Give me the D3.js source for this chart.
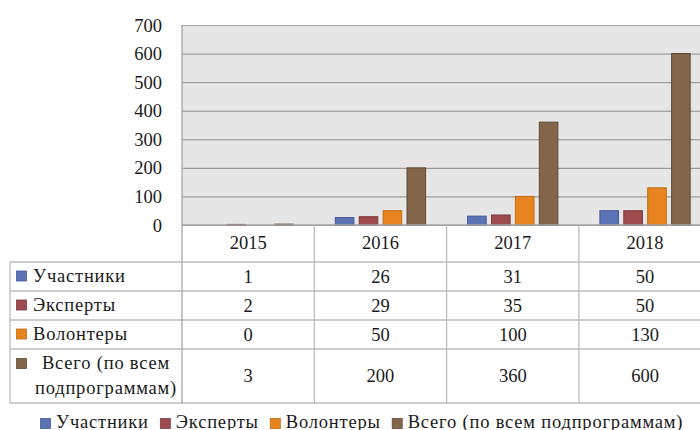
<!DOCTYPE html>
<html>
<head>
  <meta charset="utf-8">
  <script src="https://cdnjs.cloudflare.com/ajax/libs/d3/7.8.5/d3.min.js"></script>
<style>
body {
  margin: 0;
  background-color: #fff;
}
.grid .domain {
  display: none;
}
</style>
</head>

<body>
  <svg id='chart' width='700' height='430'></svg>

<script>

var years = ['2015', '2016', '2017', '2018'];
var series = ['Участники', 'Эксперты', 'Волонтеры', 'Всего (по всем подпрограммам)'];
var seriesLines = [['Участники'], ['Эксперты'], ['Волонтеры'], ['Всего (по всем', 'подпрограммам)']];
var participants = [1, 26, 31, 50];
var experts = [2, 29, 35, 50];
var volunteers = [0, 50, 100, 130];
var total = [3, 200, 360, 600];
var yTicks = [0, 100, 200, 300, 400, 500, 600, 700];

var fills = ['#5b72b5', '#9d4b4f', '#e8841f', '#83664a'];
var strokes = ['#455a96', '#7c383b', '#c26b12', '#5f4a33'];

var values = [participants, experts, volunteers, total];

var FONT = '"Liberation Serif", "Times New Roman", serif';
var FS = 18.5;
var LS = 0.8; // wider look for the word labels

var svg = d3.select('#chart')
  .attr('font-family', FONT)
  .attr('font-size', FS);

var plotLeft = 182, plotTop = 25, zero = 225;
var colW = 132.3;
var rowY = [225, 262, 291, 320, 349, 403];
var tableLeft = 10;
var lineCol = '#bdbdbd';

var x0 = d3.scaleBand().domain(years).range([plotLeft, plotLeft + colW * years.length]);
var x1 = d3.scaleBand().domain(series).range([20.5, colW - 20.5]).paddingInner(0.18);
var y = d3.scaleLinear().domain([0, 700]).range([zero, plotTop]);

// plot background
svg.append('rect')
  .attr('x', plotLeft).attr('y', plotTop)
  .attr('width', 720 - plotLeft).attr('height', zero - plotTop)
  .attr('fill', '#e6e6e6');

// gridlines + y labels
var yAxis = svg.append('g')
  .attr('class', 'grid')
  .attr('transform', 'translate(' + plotLeft + ',0)')
  .call(d3.axisLeft(y).tickValues(yTicks).tickSize(-(720 - plotLeft)).tickPadding(20));

yAxis.attr('font-family', FONT).attr('font-size', FS);
yAxis.selectAll('text')
  .attr('fill', '#1a1a1a')
  .attr('x', -20)
  .attr('dy', '0.33em');

yAxis.selectAll('.tick line')
  .attr('stroke', function(d){ return d == 700 ? '#a6a6a6' : '#8c8c8c' })
  .attr('x1', 0);

// bars
years.forEach(function(yr, i) {
  var g = svg.append('g').attr('transform', 'translate(' + x0(yr) + ',0)');
  series.forEach(function(s, k) {
    var v = values[k][i];
    var h = zero - y(v);
    if (h < 0.5) return;
    g.append('rect')
      .attr('x', x1(s) + 0.5)
      .attr('y', y(v))
      .attr('width', x1.bandwidth() - 1)
      .attr('height', h)
      .attr('fill', fills[k])
      .attr('stroke', strokes[k])
      .attr('stroke-width', 1);
  });
});

// data table lines
var tableRight = 720;
rowY.forEach(function(yy, r) {
  svg.append('line')
    .attr('x1', r == 0 ? plotLeft : tableLeft).attr('x2', tableRight)
    .attr('y1', yy).attr('y2', yy)
    .attr('stroke', r == 0 ? '#a6a6a6' : lineCol)
    .attr('stroke-width', 1.3);
});
svg.append('line')
  .attr('x1', tableLeft).attr('x2', tableLeft)
  .attr('y1', rowY[1]).attr('y2', rowY[5])
  .attr('stroke', lineCol).attr('stroke-width', 1.3);
svg.append('line')
  .attr('x1', plotLeft).attr('x2', plotLeft)
  .attr('y1', plotTop).attr('y2', rowY[5])
  .attr('stroke', '#a6a6a6').attr('stroke-width', 1.3);
years.forEach(function(yr) {
  svg.append('line')
    .attr('x1', x0(yr) + colW).attr('x2', x0(yr) + colW)
    .attr('y1', rowY[0]).attr('y2', rowY[5])
    .attr('stroke', lineCol).attr('stroke-width', 1.3);
});

// header years
svg.selectAll('.year').data(years).enter().append('text')
  .attr('x', function(d){ return x0(d) + colW / 2 })
  .attr('y', (rowY[0] + rowY[1]) / 2 + 5)
  .attr('text-anchor', 'middle')
  .attr('fill', '#1a1a1a')
  .text(function(d){ return d });

// row labels, keys and values
series.forEach(function(s, k) {
  var y0 = rowY[k + 1], y1 = rowY[k + 2];
  var mid = (y0 + y1) / 2;
  var lines = seriesLines[k];
  var firstY = lines.length > 1 ? mid - 7 : mid + 5.5;
  svg.append('rect')
    .attr('x', 16.5).attr('y', (lines.length > 1 ? y0 + 9.5 : mid - 5.5))
    .attr('width', 10).attr('height', 10)
    .attr('fill', fills[k]).attr('stroke', strokes[k]).attr('stroke-width', 0.8);
  lines.forEach(function(t, j) {
    svg.append('text')
      .attr('x', lines.length > 1 ? 106 : 33)
      .attr('y', firstY + j * 25)
      .attr('text-anchor', lines.length > 1 ? 'middle' : 'start')
      .attr('letter-spacing', LS)
      .attr('fill', '#1a1a1a')
      .text(t);
  });
  years.forEach(function(yr, i) {
    svg.append('text')
      .attr('x', x0(yr) + colW / 2)
      .attr('y', mid + 6)
      .attr('text-anchor', 'middle')
      .attr('fill', '#1a1a1a')
      .text(values[k][i]);
  });
});

// bottom legend
var lx = 40;
series.forEach(function(s, k) {
  svg.append('rect')
    .attr('x', lx + 0.5).attr('y', 418.5)
    .attr('width', 10).attr('height', 10)
    .attr('fill', fills[k]).attr('stroke', strokes[k]).attr('stroke-width', 0.8);
  var t = svg.append('text')
    .attr('x', lx + 16)
    .attr('y', 428)
    .attr('letter-spacing', LS)
    .attr('fill', '#1a1a1a')
    .text(s);
  lx += 16 + t.node().getComputedTextLength() + 11;
});

</script>
</body>
</html>
